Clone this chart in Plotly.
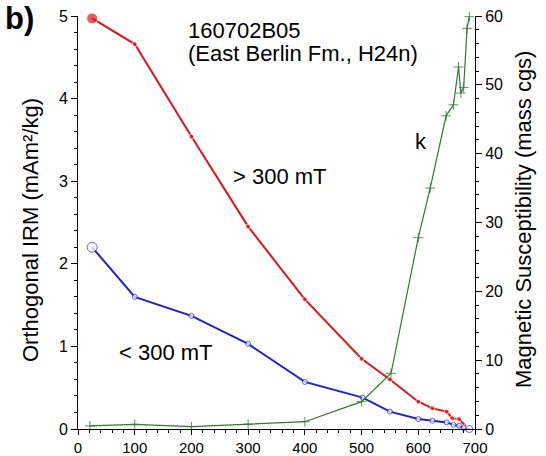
import plotly.graph_objects as go

# Red: > 300 mT (orthogonal IRM, mAm2/kg)
red_t = [25, 100, 200, 300, 400, 500, 550, 600, 625, 650, 660, 672, 683]
red_v = [4.97, 4.66, 3.54, 2.45, 1.57, 0.85, 0.60, 0.33, 0.25, 0.21, 0.13, 0.12, 0.04]

# Blue: < 300 mT
blue_t = [25, 100, 200, 300, 400, 502, 550, 600, 625, 650, 662, 672, 680, 690]
blue_v = [2.20, 1.60, 1.37, 1.03, 0.57, 0.38, 0.21, 0.12, 0.10, 0.08, 0.05, 0.04, 0.01, 0.0]

# Green: magnetic susceptibility k (mass cgs)
k_t = [21, 100, 200, 300, 400, 500, 552, 600, 621, 649, 662, 671, 675, 680, 686, 690]
k_v = [0.45, 0.68, 0.34, 0.7, 1.06, 3.97, 8.1, 27.8, 35.0, 45.5, 47.1, 52.6, 48.8, 49.6, 58.2, 59.9]

RED = "#e3131b"
BLUE = "#2020d0"
GREEN = "#2f7a2f"
FONT = "Liberation Sans"

# plot area in pixels
L, R, T, B = 78, 475, 16, 429
PW, PH = R - L, B - T


def px(x):
    return (x - L) / PW


def py(y):
    return (B - y) / PH


fig = go.Figure()

fig.add_trace(go.Scatter(
    x=k_t, y=k_v, yaxis="y2", mode="lines+markers",
    line=dict(color=GREEN, width=1.2),
    marker=dict(symbol="cross-thin", size=7, line=dict(color=GREEN, width=0.8)),
    cliponaxis=False, showlegend=False))

blue_sizes = [10] + [5] * (len(blue_t) - 2) + [7]
fig.add_trace(go.Scatter(
    x=blue_t, y=blue_v, mode="lines+markers",
    line=dict(color=BLUE, width=2),
    marker=dict(symbol="circle", size=blue_sizes, color="white",
                line=dict(color=BLUE, width=1)),
    cliponaxis=False, showlegend=False))

red_sizes = [11] + [5] * (len(red_t) - 2) + [3]
fig.add_trace(go.Scatter(
    x=red_t, y=red_v, mode="lines+markers",
    line=dict(color=RED, width=2),
    marker=dict(symbol="circle", size=red_sizes, color=RED),
    cliponaxis=False, showlegend=False))

axis_common = dict(showgrid=False, zeroline=False, showline=True, linecolor="black",
                   linewidth=1, ticks="outside", ticklen=6, tickwidth=1, tickcolor="black",
                   tickfont=dict(size=16), automargin=False, tick0=0)
minor_common = dict(ticks="outside", ticklen=3, tickwidth=1, tickcolor="black", showgrid=False)

fig.update_layout(
    width=546, height=456,
    margin=dict(l=L, r=546 - R, t=T, b=456 - B),
    paper_bgcolor="white", plot_bgcolor="white",
    font=dict(family=FONT, color="black", size=16),
    xaxis=dict(range=[0, 700], dtick=100, minor=dict(dtick=20, **minor_common),
               **{**axis_common, "ticklen": 5, "tickfont": dict(size=15)}),
    yaxis=dict(range=[0, 5], dtick=1, minor=dict(dtick=0.2, **minor_common),
               **axis_common),
    yaxis2=dict(range=[0, 60], dtick=10, overlaying="y", side="right",
                minor=dict(dtick=2, **minor_common), **axis_common),
    annotations=[
        dict(text="Orthogonal IRM (mAm²/kg)", xref="paper", yref="paper",
             x=px(30), y=py(230), xanchor="center", yanchor="middle", textangle=-90,
             showarrow=False, font=dict(size=22)),
        dict(text="Magnetic Susceptibility (mass cgs)", xref="paper", yref="paper",
             x=px(523), y=py(220), xanchor="center", yanchor="middle", textangle=-90,
             showarrow=False, font=dict(size=22)),
        dict(text="<b>b)</b>", xref="paper", yref="paper", x=px(3), y=py(18),
             xanchor="left", yanchor="middle", showarrow=False, font=dict(size=31)),
        dict(text="160702B05", xref="paper", yref="paper",
             x=px(186), y=py(30), xanchor="left", yanchor="middle",
             showarrow=False, font=dict(size=22)),
        dict(text="(East Berlin Fm., H24n)", xref="paper", yref="paper",
             x=px(186), y=py(53), xanchor="left", yanchor="middle",
             showarrow=False, font=dict(size=22)),
        dict(text="> 300 mT", xref="paper", yref="paper", x=px(231), y=py(177),
             xanchor="left", yanchor="middle", showarrow=False, font=dict(size=22)),
        dict(text="< 300 mT", xref="paper", yref="paper", x=px(117), y=py(352),
             xanchor="left", yanchor="middle", showarrow=False, font=dict(size=22)),
        dict(text="k", xref="paper", yref="paper", x=px(421), y=py(141),
             xanchor="center", yanchor="middle", showarrow=False, font=dict(size=22)),
    ],
)

fig.write_html(
    "out.html",
    config={"displayModeBar": False},
    post_script="document.body.style.margin='0';document.body.style.overflow='hidden';",
)
